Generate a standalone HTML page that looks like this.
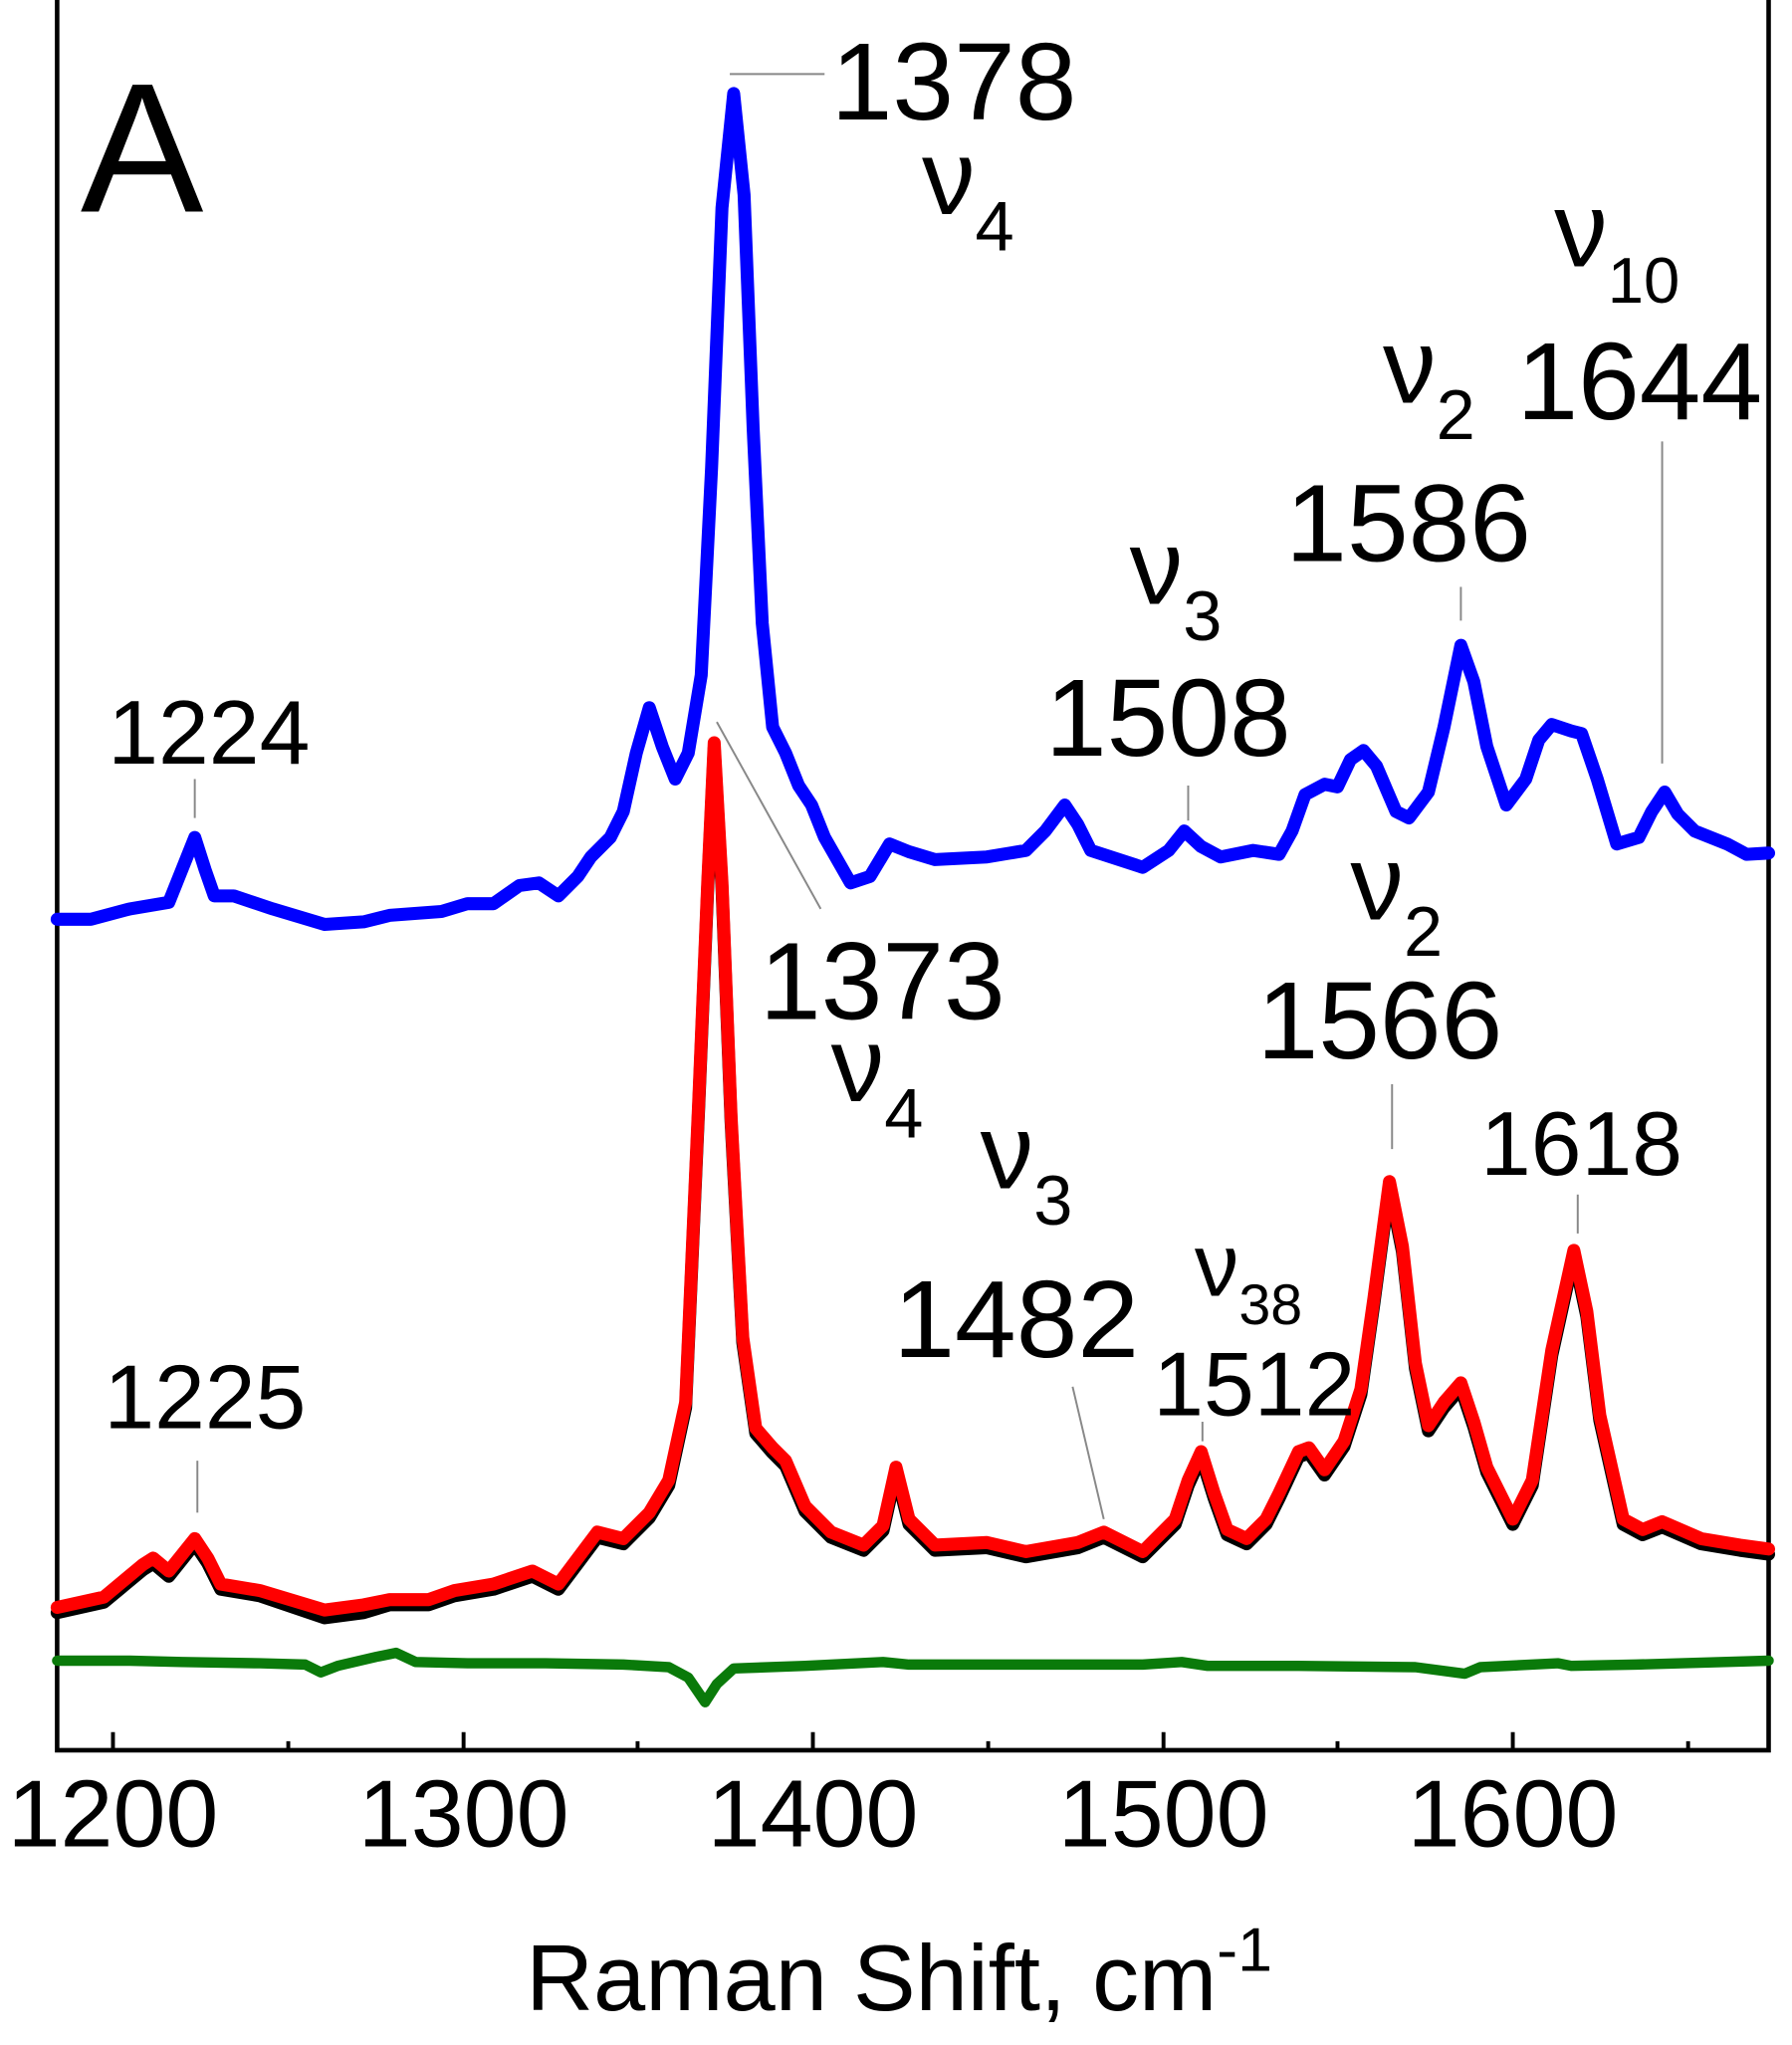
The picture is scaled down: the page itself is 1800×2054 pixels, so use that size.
<!DOCTYPE html>
<html><head><meta charset="utf-8"><style>
html,body{margin:0;padding:0;background:#fff;}
svg{display:block;}
text{font-family:"Liberation Sans",Arial,sans-serif;fill:#000;}
</style></head><body>
<svg width="1800" height="2054" viewBox="0 0 1380 1575" preserveAspectRatio="none" xmlns="http://www.w3.org/2000/svg">
<rect width="1380" height="1575" fill="#fff"/>
<path d="M44,0 V1348 H1362 V0" fill="none" stroke="#000" stroke-width="3.5"/>
<g stroke="#000" stroke-width="3">
<path d="M87,1348v-14M357,1348v-14M626,1348v-14M896,1348v-14M1165,1348v-14"/>
<path d="M222,1348v-7M491,1348v-7M761,1348v-7M1030,1348v-7M1300,1348v-7"/>
</g>
<g font-size="73" text-anchor="middle">
<text x="87" y="1422">1200</text><text x="357" y="1422">1300</text><text x="626" y="1422">1400</text><text x="896" y="1422">1500</text><text x="1165" y="1422">1600</text>
</g>
<text x="405" y="1548" font-size="72">Raman Shift, cm<tspan dy="-30" font-size="48">-1</tspan></text>
<text x="62" y="163" font-size="142">A</text>

<g fill="none" stroke-linejoin="round" stroke-linecap="round">
<polyline stroke="#0a7a0a" stroke-width="8" points="44,1279 100,1279 140,1280 200,1281 235,1282 247,1288 260,1283 290,1276 305,1273 320,1280 360,1281 420,1281 480,1282 515,1284 530,1292 543,1311 552,1297 565,1285 620,1283 680,1280 700,1282 800,1282 880,1282 910,1280 930,1283 1000,1283 1090,1284 1128,1289 1140,1284 1200,1281 1210,1283 1260,1282 1362,1279"/>

<polyline stroke="#000" stroke-width="10" transform="translate(0,4)" points="44,1238 80,1230 110,1205 118,1200 130,1210 150,1185 160,1200 170,1220 200,1225 250,1242 280,1238 300,1232 330,1232 350,1225 380,1220 410,1210 430,1220 445,1200 460,1180 480,1185 500,1165 515,1140 528,1080 538,850 545,680 550,572 556,680 563,860 572,1030 582,1100 595,1115 605,1125 620,1160 640,1180 665,1190 680,1175 690,1130 700,1170 720,1190 760,1188 790,1195 830,1188 850,1180 880,1195 905,1170 915,1140 925,1118 935,1150 945,1178 960,1185 975,1170 985,1150 1000,1118 1008,1115 1020,1132 1035,1110 1048,1070 1058,1000 1070,910 1080,960 1090,1050 1100,1098 1112,1080 1125,1065 1135,1095 1145,1130 1165,1170 1180,1140 1195,1040 1212,963 1222,1010 1232,1090 1250,1170 1265,1178 1280,1172 1310,1185 1340,1190 1362,1193"/>
<polyline stroke="#ff0000" stroke-width="10" points="44,1238 80,1230 110,1205 118,1200 130,1210 150,1185 160,1200 170,1220 200,1225 250,1240 280,1236 300,1232 330,1232 350,1225 380,1220 410,1210 430,1220 445,1200 460,1180 480,1185 500,1165 515,1140 528,1080 538,850 545,680 550,572 556,680 563,860 572,1030 582,1100 595,1115 605,1125 620,1160 640,1180 665,1190 680,1175 690,1130 700,1170 720,1190 760,1188 790,1195 830,1188 850,1180 880,1195 905,1170 915,1140 925,1118 935,1150 945,1178 960,1185 975,1170 985,1150 1000,1118 1008,1115 1020,1132 1035,1110 1048,1070 1058,1000 1070,910 1080,960 1090,1050 1100,1098 1112,1080 1125,1065 1135,1095 1145,1130 1165,1170 1180,1140 1195,1040 1212,963 1222,1010 1232,1090 1250,1170 1265,1178 1280,1172 1310,1185 1340,1190 1362,1193"/>

<polyline stroke="#0000ff" stroke-width="10" points="44,708 70,708 100,700 130,695 140,670 150,645 158,670 165,690 180,690 210,700 250,712 280,710 300,705 340,702 360,696 380,696 400,682 415,680 430,690 445,675 455,660 470,645 480,625 490,580 500,545 510,575 520,600 530,580 540,520 548,360 556,160 565,72 573,150 580,330 587,480 595,560 605,580 615,605 625,620 635,645 655,680 670,675 685,650 700,656 720,662 760,660 790,655 805,640 820,620 830,635 840,655 880,668 900,655 912,640 925,652 940,660 965,655 985,658 995,640 1005,612 1020,604 1030,606 1040,585 1050,578 1060,590 1075,625 1085,630 1100,610 1112,560 1125,497 1135,525 1145,575 1160,620 1175,600 1185,570 1195,558 1210,563 1218,565 1230,600 1245,650 1262,645 1272,625 1282,610 1292,627 1305,640 1330,650 1345,658 1362,657"/>
</g>

<g stroke="#888" stroke-width="1.5" fill="none">
<path d="M562,57H635"/>
<path d="M150,600V630"/>
<path d="M552,556L632,700"/>
<path d="M915,605V632"/>
<path d="M1125,452V478"/>
<path d="M1280,340V588"/>
<path d="M1072,835V885"/>
<path d="M1215,920V950"/>
<path d="M826,1068L850,1170"/>
<path d="M926,1095V1110"/>
<path d="M152,1125V1165"/>
</g>

<g font-size="85">
<text x="640" y="92">1378</text>
<text x="585" y="785">1373</text>
<text x="805" y="582">1508</text>
<text x="990" y="432">1586</text>
<text x="1168" y="323">1644</text>
<text x="968" y="815">1566</text>
<text x="688" y="1045">1482</text>
</g>
<g font-size="70">
<text x="83" y="588">1224</text>
<text x="1140" y="905">1618</text>
<text x="888" y="1090">1512</text>
<text x="80" y="1100">1225</text>
</g>
<g font-size="82">
<text x="710" y="165">ν<tspan font-size="54" dy="28">4</tspan></text>
<text x="640" y="848">ν<tspan font-size="54" dy="28">4</tspan></text>
<text x="870" y="465">ν<tspan font-size="54" dy="28">3</tspan></text>
<text x="755" y="915">ν<tspan font-size="54" dy="28">3</tspan></text>
<text x="1065" y="310">ν<tspan font-size="54" dy="28">2</tspan></text>
<text x="1040" y="708">ν<tspan font-size="54" dy="28">2</tspan></text>
<text x="1197" y="205">ν<tspan font-size="50" dy="28">10</tspan></text>
</g>
<text x="920" y="998" font-size="68">ν<tspan font-size="44" dy="22">38</tspan></text>
</svg>
</body></html>
